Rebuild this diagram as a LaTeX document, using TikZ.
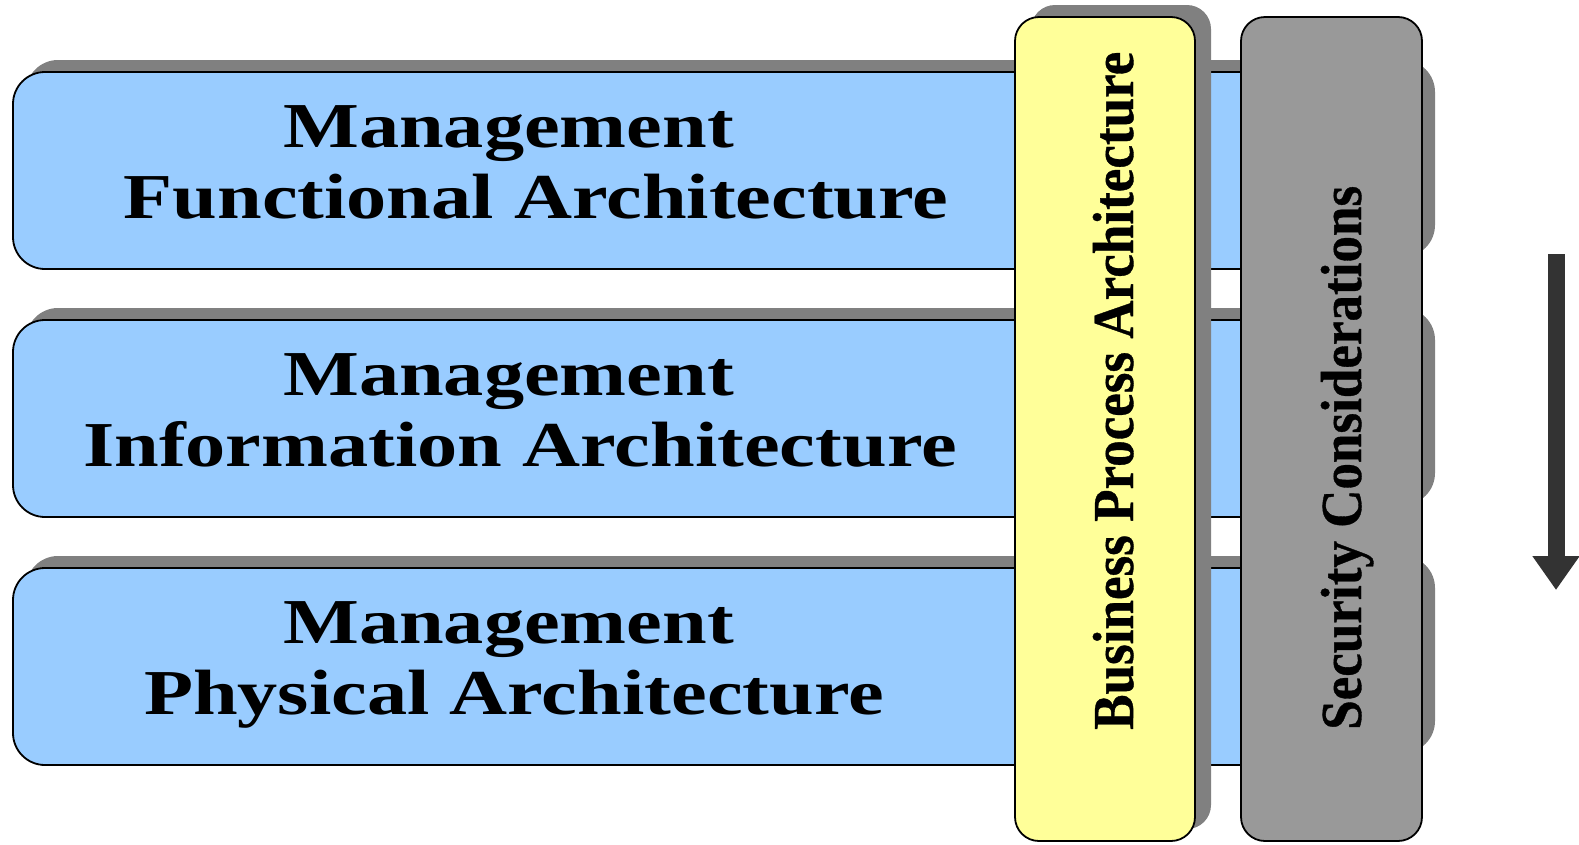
\documentclass[tikz,border=0pt]{standalone}
\usepackage{fontspec}
\setmainfont{Liberation Serif}
\newfontfamily\layerfont[FakeStretch=1.255]{Liberation Serif}
\newfontfamily\vertfont[FakeStretch=0.915,FakeBold=0.6]{Liberation Serif}
\usetikzlibrary{arrows.meta}
\definecolor{boxblue}{HTML}{99CCFF}
\definecolor{boxyellow}{HTML}{FFFF99}
\definecolor{colgray}{HTML}{999999}
\definecolor{shadowgray}{HTML}{808080}
\definecolor{arrowdark}{HTML}{333333}
\tikzset{
  layershadow/.style={fill=shadowgray, rounded corners=32pt},
  layerbox/.style={draw=black, line width=1.8pt, fill=boxblue, rounded corners=32pt},
  colshadow/.style={fill=shadowgray, rounded corners=24pt},
  colbox/.style={draw=black, line width=1.8pt, rounded corners=24pt},
  layertext/.style={inner sep=0pt, anchor=base, font=\layerfont\bfseries\fontsize{64}{71}\selectfont},
  verttext/.style={inner sep=0pt, anchor=base west, rotate=90, font=\vertfont\bfseries\fontsize{58}{62}\selectfont},
  bigarrow/.style={draw=arrowdark, line width=17pt, -{Triangle[width=45pt,length=34pt]}}
}
\begin{document}
\begin{tikzpicture}[x=1pt,y=-1pt]
\useasboundingbox (0,0) rectangle (1579,844);
% layer shadows
\foreach \t in {72,320,568}{
  \fill[layershadow] (26,\t-12) rectangle (1435,\t+185);
}
% layer boxes
\foreach \t in {72,320,568}{
  \draw[layerbox] (13,\t) rectangle (1422,\t+197);
}
% yellow column
\fill[colshadow] (1031,5) rectangle (1211,829);
\draw[colbox, fill=boxyellow] (1015,17) rectangle (1195,841);
% gray column
\draw[colbox, fill=colgray] (1241,17) rectangle (1422,841);
% texts
\node[layertext] (m1) at (508.5,147) {Management};
\node[layertext] (a1) at (536,218) {Functional Architecture};
\node[layertext] (m2) at (508.5,395) {Management};
\node[layertext] (a2) at (520,466) {Information Architecture};
\node[layertext] (m3) at (508.5,643) {Management};
\node[layertext] (a3) at (514,714) {Physical Architecture};
\node[verttext] (bpa) at (1133,730) {Business Process Architecture};
\node[verttext] (sec) at (1361,730) {Security Considerations};
% arrow
\coordinate (atop) at (1556,254);
\coordinate (abot) at (1556,590);
\draw[bigarrow] (atop) -- (abot);
\end{tikzpicture}
\end{document}
